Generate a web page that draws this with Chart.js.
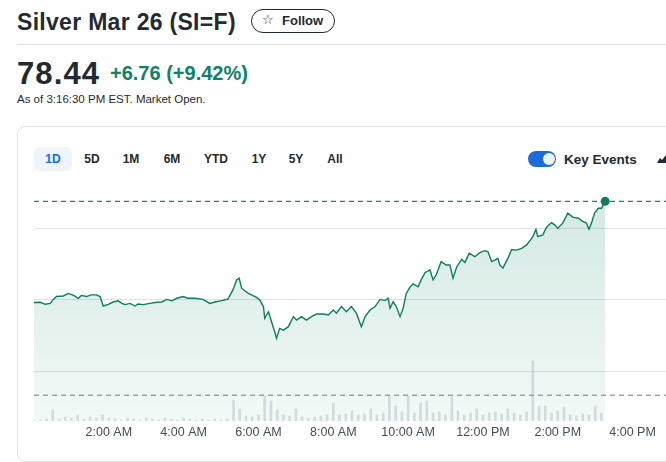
<!DOCTYPE html>
<html><head><meta charset="utf-8">
<script src="https://cdn.jsdelivr.net/npm/chart.js@4"></script>
<style>
html,body{margin:0;padding:0;background:#fff;}
body{width:666px;height:462px;overflow:hidden;position:relative;font-family:"Liberation Sans",Arial,sans-serif;color:#232a31;}
.abs{position:absolute;white-space:nowrap;}
#title{left:17px;top:8px;font-size:23px;font-weight:700;line-height:28px;letter-spacing:0.3px;}
#follow{left:251px;top:9px;width:82px;height:22px;border:1px solid #232a31;border-radius:12px;}
#star{left:262px;top:12px;font-size:13px;line-height:16px;font-family:"DejaVu Sans",sans-serif;}
#followTxt{left:282px;top:13px;font-size:13px;font-weight:700;line-height:16px;}
#divider{left:17px;top:44px;width:660px;height:1px;background:#e0e4e9;}
#price{left:17px;top:56px;font-size:31px;font-weight:700;line-height:36px;letter-spacing:1.1px;}
#chg{left:110px;top:61px;font-size:20px;font-weight:700;line-height:24px;color:#0c8464;}
#asof{left:17px;top:92px;font-size:11.5px;line-height:14px;}
#card{left:17px;top:126px;width:700px;height:334px;border:1px solid #e1e4e8;border-radius:8px;}
#tab1d{left:34px;top:147px;width:38px;height:24px;border-radius:6px;background:#eef5ff;}
.tab{top:152px;width:40px;text-align:center;font-size:12px;font-weight:700;line-height:14px;}
#toggle{left:528px;top:151px;width:28px;height:16px;border-radius:8px;background:#1b6bdb;}
#knob{left:543px;top:153px;width:12px;height:12px;border-radius:6px;background:#eef1f5;}
#ke{left:564px;top:152px;font-size:13.5px;font-weight:700;line-height:16px;}
#cv{position:absolute;left:0;top:180px;}
</style></head><body>
<div class="abs" id="title">Silver Mar 26 (SI=F)</div>
<div class="abs" id="follow"></div>
<div class="abs" id="star">☆</div>
<div class="abs" id="followTxt">Follow</div>
<div class="abs" id="divider"></div>
<div class="abs" id="price">78.44</div>
<div class="abs" id="chg">+6.76 (+9.42%)</div>
<div class="abs" id="asof">As of 3:16:30 PM EST. Market Open.</div>
<div class="abs" id="card"></div>
<div class="abs" id="tab1d"></div>
<div class="abs tab" style="left:33px;color:#0f69ff">1D</div>
<div class="abs tab" style="left:72px">5D</div>
<div class="abs tab" style="left:111px">1M</div>
<div class="abs tab" style="left:152px">6M</div>
<div class="abs tab" style="left:196px">YTD</div>
<div class="abs tab" style="left:239px">1Y</div>
<div class="abs tab" style="left:276px">5Y</div>
<div class="abs tab" style="left:315px">All</div>
<div class="abs" id="toggle"></div>
<div class="abs" id="knob"></div>
<div class="abs" id="ke">Key Events</div>
<svg class="abs" style="left:656px;top:154px" width="12" height="10"><polygon points="1,9 4,4 6,6 10,1 12,1 12,9" fill="#232a31"/></svg>
<canvas id="cv" width="700" height="270"></canvas>
<script>
const currentPrice = 78.44;
const prevClose = 71.68;
const times = [
"0:00","0:10","0:18","0:26","0:31","0:36","0:47","0:55","1:03","1:11",
"1:16","1:24","1:32","1:40","1:46","1:51","1:59","2:07","2:15","2:21",
"2:26","2:34","2:42","2:47","2:55","3:06","3:17","3:25","3:33","3:41",
"3:49","3:59","4:07","4:18","4:31","4:42","4:50","5:01","5:11","5:19",
"5:25","5:29","5:33","5:38","5:44","5:52","5:57","6:02","6:08","6:10",
"6:16","6:21","6:26","6:29","6:34","6:40","6:48","6:56","7:01","7:09",
"7:17","7:25","7:33","7:44","7:52","8:00","8:05","8:13","8:21","8:29",
"8:37","8:45","8:51","8:59","9:07","9:15","9:23","9:28","9:31","9:36",
"9:41","9:47","9:52","9:57","10:03","10:08","10:16","10:21","10:27","10:35",
"10:40","10:45","10:53","11:01","11:07","11:12","11:18","11:26","11:31","11:38",
"11:47","11:55","12:03","12:08","12:14","12:19","12:24","12:27","12:32","12:40",
"12:46","12:54","13:02","13:10","13:16","13:20","13:25","13:28","13:36","13:42",
"13:50","13:55","14:00","14:08","14:16","14:24","14:33","14:40","14:46","14:50",
"14:54","14:59","15:05","15:10","15:16"];
const prices = [
74.91,74.92,74.85,74.88,75.02,75.12,75.14,75.23,75.17,75.06,
75.16,75.12,75.18,75.18,75.12,74.79,74.85,74.93,74.97,74.88,
74.84,74.88,74.79,74.86,74.84,74.88,74.92,74.93,75.02,74.97,
75.06,75.12,75.06,75.06,75.02,74.88,74.93,74.98,75.03,75.35,
75.70,75.76,75.41,75.32,75.23,75.14,75.09,75.00,74.77,74.36,
74.59,74.24,73.89,73.66,74.01,73.95,74.07,74.42,74.30,74.42,
74.30,74.42,74.51,74.51,74.48,74.65,74.54,74.77,74.59,74.77,
74.54,74.07,74.42,74.65,74.77,75.02,74.98,75.06,74.71,74.94,
74.77,74.42,74.71,75.23,75.45,75.56,75.46,75.70,75.95,76.05,
75.70,75.87,76.34,76.22,76.22,75.76,76.16,76.42,76.31,76.63,
76.51,76.65,76.72,76.69,76.34,76.39,76.45,76.22,76.11,76.45,
76.76,76.74,76.80,76.92,77.09,77.21,77.46,77.21,77.27,77.54,
77.70,77.62,77.50,77.68,78.03,77.89,77.85,77.74,77.68,77.47,
77.68,78.03,78.20,78.20,78.44];
// volume per 10-minute slot starting 0:00 (hundreds of contracts)
const volStart = "0:00";
const volStepMin = 10;
const volumes = [
1,1,2,11,2,4,3,6,2,4, 3,6,3,2,1,3,2,1,3,2,
1,3,2,1,3,2,1,2,1,2, 1,2,21,12,5,4,6,25,20,11,
6,5,12,4,3,4,5,6,18,6, 7,10,6,7,12,6,8,25,15,9,
25,8,18,20,8,9,6,24,10,6, 8,12,6,8,9,7,12,8,6,9,
60,15,15,8,10,14,6,5,7,6, 15,8];
const axisStart = "0:00", axisEnd = "17:00";
const tickLabels = ["2:00 AM","4:00 AM","6:00 AM","8:00 AM","10:00 AM","12:00 PM","2:00 PM","4:00 PM"];

const toMin = s => { const [h,m] = s.split(":").map(Number); return h*60+m; };
const linePts = times.map((t,i)=>({x:toMin(t), y:prices[i]}));
const v0 = toMin(volStart);
const volPts = volumes.map((v,i)=>({x:v0+i*volStepMin, y:v}));
const xMin = toMin(axisStart), xMax = toMin(axisEnd);
const lastIdx = prices.length-1;

const ctx = document.getElementById('cv').getContext('2d');
new Chart(ctx, {
  type:'line',
  data:{datasets:[
    {type:'line', data:linePts, yAxisID:'y', borderColor:'#0b7d62', borderWidth:1.4, tension:0,
     pointRadius:c=>c.dataIndex===lastIdx?4.5:0, pointBackgroundColor:'#0b7d62', pointBorderWidth:0,
     fill:'start', order:1,
     backgroundColor:c=>{const a=c.chart.chartArea; if(!a) return 'rgba(13,132,100,0.12)';
       const g=c.chart.ctx.createLinearGradient(0,a.top,0,a.bottom);
       g.addColorStop(0,'rgba(13,132,100,0.19)'); g.addColorStop(1,'rgba(13,132,100,0.05)'); return g;}},
    {type:'line', data:[{x:xMin,y:currentPrice},{x:xMax,y:currentPrice}], yAxisID:'y', borderColor:'#17896e', borderWidth:1.2, borderDash:[5,4], pointRadius:0, fill:false, order:2},
    {type:'line', data:[{x:xMin,y:prevClose},{x:xMax,y:prevClose}], yAxisID:'y', borderColor:'#a2a6aa', borderWidth:1.5, borderDash:[5,4], pointRadius:0, fill:false, order:2},
    {type:'bar', data:volPts, yAxisID:'yv', backgroundColor:'rgba(200,204,210,0.6)', barThickness:2, order:3}
  ]},
  options:{
    responsive:false, animation:false, devicePixelRatio:1,
    layout:{padding:{left:34,right:30,top:5,bottom:0}},
    plugins:{legend:{display:false},tooltip:{enabled:false}},
    scales:{
      x:{type:'linear', min:xMin, max:xMax, offset:false,
         grid:{display:false, drawTicks:false}, border:{display:false},
         afterFit:s=>{s.height=29;},
         ticks:{stepSize:120, includeBounds:false, autoSkip:false, maxRotation:0, padding:4,
                color:'#464d55', font:{family:'"Liberation Sans", Arial', size:12.5},
                callback:v=>{const i=v/120-1; return (i>=0 && i<tickLabels.length)?tickLabels[i]:'';}}},
      y:{min:70.78, max:79.01, position:'left',
         grid:{color:'#dfe1e5', lineWidth:1, drawTicks:false}, border:{display:false},
         ticks:{display:false, stepSize:2.5, includeBounds:false},
         afterFit:s=>{s.width=0;}},
      yv:{min:0, max:236, display:false}
    }
  }
});
</script>
</body></html>
